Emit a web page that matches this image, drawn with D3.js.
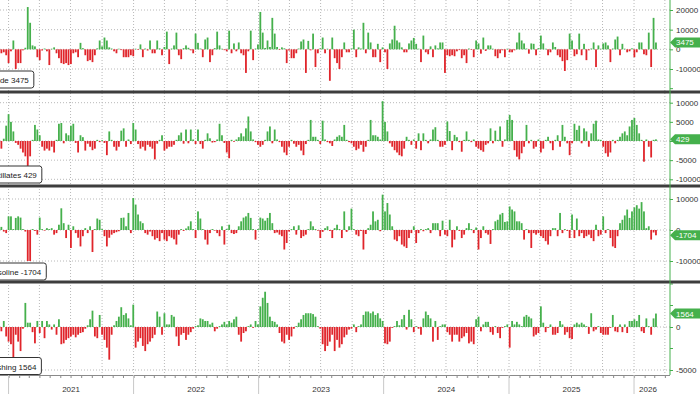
<!DOCTYPE html>
<html>
<head>
<meta charset="utf-8">
<script src="https://cdn.jsdelivr.net/npm/d3@7"></script>
<style>
  body { margin: 0; background: #fff; }
  svg { display: block; font-family: "Liberation Sans", Arial, sans-serif; }
</style>
</head>
<body>
<div id="chart"></div>
<script>
// weekly inventory changes (thousand barrels), first report week 2020-12-11
var firstWeek = new Date(2020, 11, 11);

var crude = [
  -2000, -1500, -3000, -7000, -1000, 4500, -10000, -7000, -7000, -500,
  800, 21500, 13500, 2000, 1500, -4000, -5500, -600, 400, -1000,
  -8000, 300, 1000, -2000, -4500, -7000, -7500, -7000, -8000, -7500,
  -2000, -1500, -4000, 3300, 600, -3000, -6000, -5500, -6500, -3000,
  500, 4500, 1500, 6000, 4500, 1000, 400, -1000, -2000, 300,
  -400, -4000, -4000, -4000, -3000, -3500, 300, -300, 2500, -4000,
  400, -600, 4500, -2000, -2000, 4500, 500, -3000, 1200, 9000,
  -7500, 400, 2000, 8500, -3000, -5000, 600, 2000, 800, -500,
  -2000, 8000, 3300, 400, -4000, 5000, 6000, -6500, -3000, 600,
  9000, 2000, 300, -400, -1000, 9500, -2000, 3000, -1000, 3500,
  -2000, -3000, -12000, -1000, 9500, -5500, 400, 2500, 19000, 8500,
  700, 4500, 1200, 16000, 8000, 1200, -300, 1000, 500, -7000,
  -600, -4500, -4500, -2000, 400, 4000, 5000, -12000, 4300, -500,
  8000, -9000, -2000, 500, 6000, -2000, 300, -16000, 6000, -4500,
  -7000, -10000, -4000, 3500, -1500, -1500, 400, 10000, -4000, 1000,
  400, 13500, -2000, 8500, 3500, -4000, -4000, 2800, -6500, 1000,
  -1500, -10000, 3000, 5000, 12000, 4500, 3500, 1000, -1500, -1500,
  3000, 4500, 5800, 2800, 300, -6500, 7000, -1500, -2500, 1500,
  -4000, 2000, 500, 3500, 3500, -12000, -3000, -3500, -3000, -3500,
  -1000, -400, -4500, -3000, -7000, 400, -300, -4000, 4500, 3000,
  -2200, 6000, -800, 2000, 2000, 300, -3500, -4500, -2000, -500,
  -4000, 300, -1500, -1500, -500, 3500, 8500, 4500, 3000, 400,
  -2200, 3000, 2800, -3000, 600, 7000, 3000, 300, -3000, -1500,
  3500, 1200, -3000, -4000, -6000, -11000, -5500, 8000, 4500, -3500,
  -2500, 8000, -3000, 2800, -5500, -500, 400, 3500, -9000, 2000,
  300, 3000, 3500, 2000, -6500, 400, 5000, 6500, -3000, 2800,
  300, -1500, -1000, 500, -4000, -1500, 3500, 3500, -2500, -3000,
  8500, -9000, 16000, 3475
];

var distillates = [
  -2000, 600, 4000, 7000, 5000, 2500, -500, -1000, -2000, -3000,
  -4000, -6500, -4000, 300, 4200, 3000, 1500, -1500, -2500, -2000,
  -2500, -1500, -3000, 300, 4500, 4700, -600, 2000, 1500, 4000,
  4500, -500, -3000, 1500, 1000, -2500, -700, -1500, -2400, -2000,
  300, -300, 200, -500, -3700, 2500, 300, -1500, -2500, -1500,
  2700, 3300, -1500, 400, -800, 4700, 3000, -800, -2000, -1500,
  -2500, -1000, -1500, -2000, -4800, -700, 300, 1500, -2500, -2000,
  -1500, -1500, -1000, 300, 1500, 2200, -700, 3000, -600, 3000,
  400, -800, 3000, -800, -2000, 300, 2000, 700, -400, -300,
  400, 4500, 1500, -500, -3000, -4500, 300, -200, 400, 1000,
  2000, 1200, 3300, 6400, 2500, 400, -300, -1000, -1500, -1000,
  300, 2500, 3800, -600, 3000, 400, -300, -1500, -3000, -3700,
  -1500, 300, -700, -1500, -1000, -2500, -3700, -800, 300, 5500,
  1100, 1100, 300, -800, 5300, 400, -300, -600, -1300, 400,
  1100, 1500, 1100, 4200, 300, -300, -600, -1500, -2400, -2000,
  -1000, -2800, -1500, 300, 5500, 1500, 1500, 1100, 400, 10400,
  5000, 2500, -600, -1500, -2400, -3000, -3700, -4000, -2000, 1100,
  300, -1000, 400, -2000, 2000, -2400, 2000, 300, -600, 400,
  3000, 3600, 300, -1500, -1500, -1000, 5100, 2600, -2400, 1600,
  1000, -300, -2800, 300, 2500, 300, -300, 400, -1500, -2000,
  -2400, -2800, -1000, -600, 3300, -600, 2700, 300, 3800, -1500,
  400, 5500, 6800, 5500, -2400, -4100, -4800, -3200, -1500, 4200,
  -600, 300, -2000, -1500, 400, -3000, -2000, 300, 1100, -600,
  -2400, 300, 1500, -1500, 4200, 1100, -600, -3700, -600, 4500,
  2900, 4000, -600, 3300, 2500, -1500, 2000, 4500, 5300, 400,
  300, -1500, -3200, -4100, -3000, 300, -600, 300, 1100, 2000,
  2500, 1500, 3800, 5500, 6000, 4200, 2000, 300, -5400, 400,
  -1500, -4300, 300, 429
];

var gasoline = [
  1000, -500, -1000, 4400, 4400, 300, 3900, 4400, 4000, 300,
  -500, -10000, -10000, 300, -300, -1500, 4000, 300, -200, 600,
  300, 600, -1500, -1000, 1700, 7000, 2200, -2600, 1700, -5800,
  1200, -1000, -2500, -5300, -2000, 600, -1000, 1200, -7100, 300,
  3700, 3300, 300, -2000, -5300, -2500, -1500, -1000, -700, -400,
  3900, 4000, 1200, 5500, -1000, 10300, 8200, 5000, 2800, 2200,
  -1000, -1500, -500, -2000, -3100, -2600, -3600, -1000, -3100, -3600,
  -2000, -2500, -3000, -4700, -1500, 300, -300, 500, 1200, 2800,
  300, -2600, 6000, 3700, 300, -3100, -4700, -1000, 300, -200,
  -1000, -2000, 1200, -4700, 300, 1700, -1000, -1300, -1000, 1200,
  2800, 4000, 4400, 5500, 3900, 300, -3100, 300, 4000, 3700,
  3000, 3900, 5500, 2200, -1000, -800, -1500, -2000, -6300, -4200,
  -500, 300, 1200, -1500, 1500, -2600, -2000, -1500, 300, 2800,
  1200, 300, -200, -2600, -600, 600, 1200, -300, -2600, 600,
  1700, 300, -2600, 6000, -600, 1200, 6900, 300, -1500, -2000,
  -300, -6300, -1300, 600, 1700, 6000, 2800, 3300, -400, 11400,
  6000, 8700, 5000, 1200, -3100, -3600, -2000, -4700, -5300, -5800,
  -2600, -1000, 1200, -4200, -1000, 300, -400, 300, 600, -1000,
  2200, 2200, 2200, -2000, 3000, -1500, -2000, 3300, -5600, -3100,
  1200, -300, -2600, -1500, 600, 2200, 300, -1000, 800, -6300,
  -2600, 1200, -1000, -1500, -4500, 300, 2800, 3300, 5000, 5500,
  2600, 2800, 7600, 6600, 6000, 2800, 2800, 2200, -3100, 300,
  -1000, -5800, -1000, -1500, -1000, -2000, -2600, -3600, -4700, -2000,
  600, 600, -2000, 5500, -1000, 300, -300, -2600, 5000, -2600,
  3700, -2000, -1000, -2600, -2000, -1500, -2600, -3600, 1700, -2000,
  -1500, 4400, -1000, 300, -2600, -5300, -5800, -2000, 2200, 3300,
  4700, 6600, 3900, 6000, 7300, 8000, 6900, 9000, 6000, 600,
  1200, -3100, -800, -1704
];

var cushing = [
  -500, 700, -1100, -1700, -2000, -3600, -900, -1700, -2800, -200,
  2800, 500, 500, -600, -1900, 700, -700, 700, -1300, 700,
  300, -300, 300, -900, 900, -2000, -1900, -1500, -1300, -1100,
  -900, -1200, -900, -700, -600, -200, 200, 900, 1900, -1100,
  -1300, 1400, -900, -1500, -2400, -3800, -900, 200, 700, 1200,
  2300, 1400, 1600, 1000, 200, 2600, -2400, -1700, -1300, -2200,
  -2800, -2000, -1700, -1300, -900, 1800, 1200, -900, 1600, 300,
  300, 1400, 1200, -1100, -2200, -900, -700, -1500, -900, -600,
  -200, 100, 200, 1000, 900, 700, 700, 300, 500, -500,
  -200, 100, 300, 600, 300, 700, 500, 900, 1200, -900,
  -1700, -700, -500, 100, 300, -100, 700, 300, 2400, 3400,
  4100, 2800, 1200, 700, 600, 300, -700, -1700, -1900, -900,
  -1500, -1100, -200, 100, 500, 900, 1400, 1600, 1600, 1600,
  1500, 1200, 100, -200, -2000, -2800, -2200, -1700, -900, -2800,
  -1500, -2400, -2000, -1200, -900, -300, -200, 300, -600, 100,
  300, 1400, 1800, 1800, 1600, 1800, 1400, 1600, 1000, 700,
  -1900, -2000, -1700, -100, 100, 700, 200, 900, 1400, -300,
  2000, 900, -600, 100, -200, -900, 1000, 1800, 1400, 1000,
  -1700, 700, -1500, 100, 300, 300, -600, -900, -1700, -900,
  -900, -1700, -1300, -1100, -700, -1900, -1700, -2000, 900, 1200,
  -500, 300, 600, 600, -600, -900, 100, -700, -1300, -100,
  100, 300, -2400, 700, 300, 600, 300, 100, 1200, 1400,
  1200, 1000, -1100, -900, -700, 2400, 500, -600, -100, 300,
  -900, -900, -700, 700, 300, -900, -600, -1300, -1400, 300,
  500, 300, 500, 300, 100, -800, 1600, -500, -300, 100,
  -700, -900, -900, -900, -100, 1400, -500, -600, 300, -600,
  300, -700, 700, 700, 900, 700, 1400, -500, -700, 1000,
  100, -900, 1000, 1564
];

var seriesNames = ["Crude", "Distillates", "Gasoline", "Cushing"];
var yearLabels = ["2021", "2022", "2023", "2024", "2025", "2026"];
var crudeTicks = [20000, 10000, 0, -10000];
var distillatesTicks = [10000, 5000, 0, -5000, -10000];
var gasolineTicks = [10000, 0, -10000];
var cushingTicks = [0, -5000];

var width = 700, height = 394, plotRight = 670, axisY = 375;
var green = "#45b04c", red = "#e0252b";

var svg = d3.select("#chart").append("svg")
  .attr("width", width)
  .attr("height", height);

var x = d3.scaleTime()
  .domain([new Date(2020, 11, 7), new Date(2026, 3, 16)])
  .range([0, plotRight]);

var weeks = crude.map(function (d, i) { return d3.timeDay.offset(firstWeek, 7 * i); });

// panel layout: top/bottom of each strip and the scale anchors
var panels = [
  { values: crude, ticks: crudeTicks, minor: [-20000], top: 0, bottom: 91, boxBottom: 88,
    y: d3.scaleLinear().domain([-10000, 20000]).range([69, 10]) },
  { values: distillates, ticks: distillatesTicks, minor: [], top: 93, bottom: 185, boxBottom: 183,
    y: d3.scaleLinear().domain([-10000, 10000]).range([179.3, 102.7]) },
  { values: gasoline, ticks: gasolineTicks, minor: [], top: 187, bottom: 281, boxBottom: 280,
    y: d3.scaleLinear().domain([-10000, 10000]).range([261, 199]) },
  { values: cushing, ticks: cushingTicks, minor: [5000, 2500, -2500], top: 283, bottom: axisY, boxBottom: 374.5,
    y: d3.scaleLinear().domain([-5000, 0]).range([370, 327]) }
];

// vertical dotted grid (quarters)
svg.append("g")
  .selectAll("line")
  .data(d3.timeMonth.every(3).range(new Date(2021, 0, 1), new Date(2026, 3, 2)))
  .enter()
  .append("line")
  .attr("x1", function (d) { return x(d); })
  .attr("x2", function (d) { return x(d); })
  .attr("y1", 0)
  .attr("y2", axisY)
  .style("stroke", "#b8b8b8")
  .style("stroke-dasharray", "1,2");

panels.forEach(function (p, k) {
  var clipId = "clip" + k;
  svg.append("clipPath").attr("id", clipId)
    .append("rect")
    .attr("x", 0).attr("y", p.top)
    .attr("width", plotRight).attr("height", p.bottom - p.top);

  // horizontal dotted grid
  svg.append("g")
    .selectAll("line")
    .data(p.ticks)
    .enter()
    .append("line")
    .attr("x1", 0)
    .attr("x2", plotRight)
    .attr("y1", function (d) { return p.y(d); })
    .attr("y2", function (d) { return p.y(d); })
    .style("stroke", "#b8b8b8")
    .style("stroke-dasharray", "1,2");

  // bars
  svg.append("g")
    .attr("clip-path", "url(#" + clipId + ")")
    .selectAll("rect")
    .data(p.values)
    .enter()
    .append("rect")
    .attr("x", function (d, i) { return x(weeks[i]) - 0.9; })
    .attr("width", 1.8)
    .attr("y", function (d) { return Math.min(p.y(d), p.y(0)); })
    .attr("height", function (d) { return Math.abs(p.y(d) - p.y(0)); })
    .style("fill", function (d) { return d >= 0 ? green : red; });

  // right axis ticks + labels
  var axis = svg.append("g")
    .attr("transform", "translate(" + plotRight + ",0)")
    .call(d3.axisRight(p.y).tickValues(p.ticks).tickSize(3).tickPadding(3)
      .tickFormat(function (d) { return d; }));
  axis.select(".domain").remove();
  axis.selectAll("line").style("stroke", green);
  axis.selectAll("text")
    .style("font-size", "8px")
    .style("font-family", "'Liberation Sans', Arial, sans-serif")
    .style("fill", "#333");

  svg.append("g")
    .selectAll("line")
    .data(p.minor)
    .enter()
    .append("line")
    .attr("x1", plotRight).attr("x2", plotRight + 3)
    .attr("y1", function (d) { return p.y(d); })
    .attr("y2", function (d) { return p.y(d); })
    .style("stroke", green);

  // last value tag
  var last = p.values[p.values.length - 1];
  var cy = p.y(last);
  svg.append("path")
    .attr("d", "M" + plotRight + "," + cy + "L" + (plotRight + 5) + "," + (cy - 5) +
      "H" + width + "V" + (cy + 5) + "H" + (plotRight + 5) + "Z")
    .style("fill", green);
  svg.append("text")
    .attr("x", plotRight + 6)
    .attr("y", cy + 3)
    .style("font-size", "8px")
    .style("fill", "#fff")
    .text(last);

  // legend box at lower left (partly off-screen)
  var lg = svg.append("g");
  var rect = lg.append("rect");
  var label = lg.append("text")
    .attr("x", -13)
    .attr("y", p.boxBottom - 5)
    .style("font-size", "8px")
    .style("fill", "#222")
    .text(seriesNames[k] + " " + last);
  var tw = label.node().getComputedTextLength();
  rect.attr("x", -18)
    .attr("y", p.boxBottom - 17)
    .attr("width", tw + 10)
    .attr("height", 17)
    .attr("rx", 2.5)
    .style("fill", "#fff")
    .style("stroke", "#333")
    .style("stroke-width", 1);
});

// thick separators between panels
svg.append("g")
  .selectAll("line")
  .data([panels[0].bottom + 1, panels[1].bottom + 1, panels[2].bottom + 1])
  .enter()
  .append("line")
  .attr("x1", 0)
  .attr("x2", width)
  .attr("y1", function (d) { return d; })
  .attr("y2", function (d) { return d; })
  .style("stroke", "#3d3d3d")
  .style("stroke-width", 3);

// green right axis line
svg.append("line")
  .attr("x1", plotRight).attr("x2", plotRight)
  .attr("y1", 0).attr("y2", axisY)
  .style("stroke", green);

// bottom time axis
var xAxis = svg.append("g")
  .attr("transform", "translate(0," + axisY + ")")
  .call(d3.axisBottom(x).ticks(d3.timeMonth.every(1)).tickSize(3).tickFormat(""));
xAxis.select(".domain").attr("d", "M0,0.5H" + plotRight).style("stroke", "#8a8a8a");
xAxis.selectAll(".tick line").style("stroke", "#8a8a8a");

var yearStarts = yearLabels.map(function (y) { return new Date(+y, 0, 1); });
svg.append("g")
  .selectAll("line")
  .data(yearStarts)
  .enter()
  .append("line")
  .attr("x1", function (d) { return x(d); })
  .attr("x2", function (d) { return x(d); })
  .attr("y1", axisY)
  .attr("y2", height)
  .style("stroke", "#c8c8c8");

svg.append("g")
  .selectAll("text")
  .data(yearLabels)
  .enter()
  .append("text")
  .attr("x", function (d, i) {
    var a = x(yearStarts[i]);
    var b = Math.min(x(new Date(+d + 1, 0, 1)), plotRight - 8);
    return (a + b) / 2;
  })
  .attr("y", 392)
  .attr("text-anchor", "middle")
  .style("font-size", "8px")
  .style("fill", "#333")
  .text(function (d) { return d; });
</script>
</body>
</html>
